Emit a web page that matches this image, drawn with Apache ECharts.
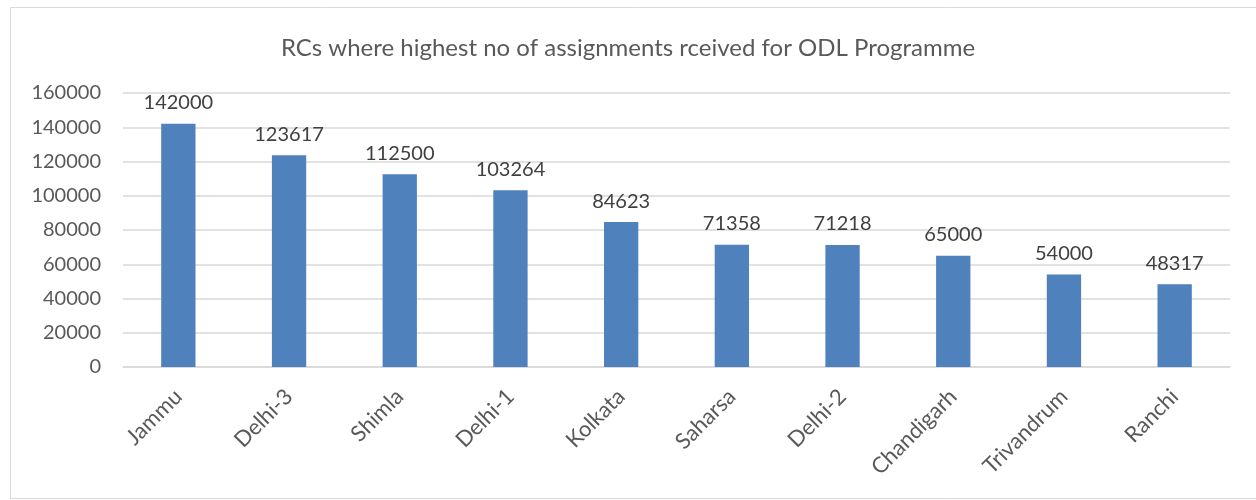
<!DOCTYPE html>
<html>
<head>
<meta charset="utf-8">
<script src="https://cdn.jsdelivr.net/npm/echarts@6/dist/echarts.min.js"></script>
<style>
  html, body { margin: 0; padding: 0; background: #fff; }
  #main { width: 1256px; height: 500px; }
</style>
</head>
<body>
<div id="main"></div>
<script>
// data
var categories = ["Jammu", "Delhi-3", "Shimla", "Delhi-1", "Kolkata", "Saharsa", "Delhi-2", "Chandigarh", "Trivandrum", "Ranchi"];
var assignments = [142000, 123617, 112500, 103264, 84623, 71358, 71218, 65000, 54000, 48317];
var titleText = "RCs where highest no of assignments rceived for ODL Programme";

var myChart = echarts.init(document.getElementById("main"));

myChart.setOption({
  textStyle: { fontFamily: "Lato" },
  // chart frame
  graphic: [
    {
      type: "rect",
      shape: { x: 10.5, y: 7.5, width: 1250, height: 491 },
      style: { fill: "none", stroke: "#d9d9d9", lineWidth: 1 },
      silent: true
    }
  ],
  title: {
    text: titleText,
    left: "center",
    top: 31,
    textStyle: { fontSize: 24, fontWeight: "normal", color: "#595959", fontFamily: "Lato" }
  },
  grid: { left: 123, right: 26, top: 93, bottom: 133 },
  xAxis: {
    type: "category",
    data: categories,
    axisLine: { lineStyle: { color: "#d9d9d9", width: 1.5 } },
    axisTick: { show: false },
    axisLabel: { rotate: 45, fontSize: 22, color: "#595959", margin: 26, fontFamily: "Lato" }
  },
  yAxis: {
    type: "value",
    min: 0,
    max: 160000,
    interval: 20000,
    axisLine: { show: false },
    axisTick: { show: false },
    splitLine: { lineStyle: { color: "#d9d9d9", width: 1.5 } },
    axisLabel: {
      fontSize: 20, color: "#595959", margin: 22, fontFamily: "Lato",
      formatter: function (v) { return String(v); }
    }
  },
  series: [
    {
      type: "bar",
      data: assignments,
      barWidth: "31%",
      itemStyle: { color: "#4f81bd" },
      label: { show: true, position: "top", distance: 11, fontSize: 20, color: "#404040", fontFamily: "Lato" }
    }
  ]
});
</script>
</body>
</html>
